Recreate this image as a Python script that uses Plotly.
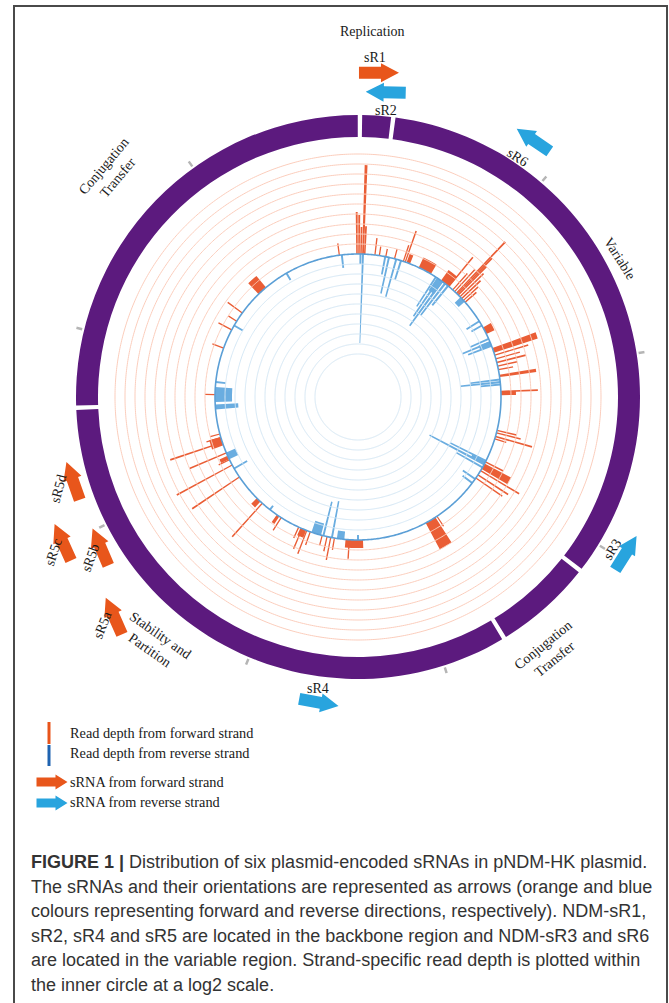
import numpy as np
import plotly.graph_objects as go

# ---------------- data (angles in degrees clockwise from top, depth in log2 units) -------------
fwd_theta = [352.5, 359.6, 0.4, 1.2, 2.0, 2.7, 6.8, 8.6, 11.2, 14.8, 18.5, 19.3, 20.6, 27.9, 37.5,
             39.4, 41.5, 42.5, 43.5, 44.0, 44.5, 45.5, 46.5, 47.5, 48.5, 62.4, 71.0, 73.0, 74.5, 76.0,
             77.5, 79.0, 81.5, 87.8, 88.5, 103.5, 104.5, 106.0, 107.0, 117.0, 119.0, 121.0, 123.0, 124.5,
             146.5, 149.5, 181.5, 183.5, 189.5, 191.0, 192.5, 194.5, 199.5, 201.0, 202.5, 203.0, 204.5,
             212.5, 214.0, 222.0, 224.0, 236.0, 241.6, 244.0, 245.0, 247.0, 251.5, 252.0, 253.5, 255.0,
             271.0, 290.0, 298.0, 302.0, 306.0, 318.0]
fwd_width = [0.5, 0.6, 0.6, 0.6, 0.7, 0.6, 0.5, 0.5, 0.5, 0.5, 0.5, 0.5, 1.5, 5.5, 4.0,
             0.5, 0.5, 0.5, 0.5, 0.5, 0.6, 0.5, 0.6, 0.5, 0.6, 3.0, 2.0, 0.5, 0.5, 0.6,
             0.5, 0.5, 1.0, 0.6, 1.5, 0.5, 0.5, 0.6, 0.5, 0.5, 2.5, 0.5, 0.5, 0.5,
             0.5, 4.5, 7.0, 0.5, 0.5, 0.5, 0.5, 0.5, 0.5, 0.5, 2.5, 0.5, 0.5,
             0.5, 1.2, 0.5, 2.0, 0.5, 0.5, 0.5, 1.5, 0.5, 0.5, 3.5, 0.5, 0.5,
             0.5, 0.5, 0.5, 0.5, 0.5, 4.0]
fwd_log2 = [1.2, 4.2, 3.9, 2.7, 8.9, 2.8, 1.7, 0.9, 0.8, 1.0, 1.7, 3.3, 0.9, 1.1, 1.3,
            3.8, 2.2, 3.0, 7.1, 5.0, 4.0, 3.3, 2.6, 2.0, 1.5, 0.9, 4.6, 3.5, 2.5, 3.0,
            2.0, 1.5, 3.7, 3.7, 1.5, 2.0, 2.5, 3.8, 1.2, 2.0, 3.0, 4.5, 3.6, 3.2,
            1.2, 3.0, 0.8, 1.9, 1.2, 2.3, 1.5, 1.0, 1.4, 2.5, 0.8, 2.2, 1.2,
            1.5, 0.9, 4.5, 0.8, 5.7, 6.3, 1.2, 0.9, 4.0, 5.5, 1.2, 1.5, 1.0,
            1.0, 1.2, 1.5, 1.0, 1.8, 1.5]

rev_theta = [353.5, 1.0, 2.0, 11.0, 12.5, 15.5, 17.5, 33.0, 34.5, 36.0, 37.5, 39.0, 35.0, 47.0,
             58.0, 60.0, 66.0, 67.5, 69.0, 68.0, 83.0, 84.0, 85.0, 116.5, 117.5, 118.0, 119.5,
             125.0, 127.0, 180.0, 187.0, 190.5, 194.0, 197.0, 218.0, 240.0, 245.7, 266.0, 271.0,
             276.0, 300.0, 330.0]
rev_width = [0.8, 0.8, 0.8, 0.8, 0.8, 0.8, 0.8, 0.8, 0.9, 1.0, 0.9, 0.9, 3.0, 2.5,
             0.8, 0.8, 0.8, 0.9, 0.8, 2.0, 0.8, 0.9, 0.8, 0.8, 1.5, 1.0, 0.8,
             0.8, 0.8, 0.8, 3.0, 0.8, 0.8, 4.0, 0.8, 0.8, 3.0, 2.0, 6.0,
             0.8, 0.8, 0.8]
rev_log2 = [1.3, 1.0, 8.9, 1.8, 3.7, 3.9, 2.0, 3.5, 4.5, 5.5, 4.0, 2.5, 1.5, 0.8,
            1.5, 1.2, 2.0, 3.0, 2.5, 1.2, 3.0, 4.0, 2.0, 4.0, 1.5, 6.2, 3.0,
            1.5, 1.2, 0.5, 0.8, 3.7, 3.5, 1.2, 0.5, 1.5, 1.0, 2.3, 1.7,
            1.0, 1.0, 0.8]

region_names = ["Replication", "Variable", "Conjugation Transfer", "Stability and Partition",
                "Conjugation Transfer"]
region_start = [0.4, 7.2, 128.0, 148.8, 267.8]
region_end = [7.2, 128.0, 148.8, 267.8, 360.4]

tick_theta = [40.5, 81.1, 121.6, 162.2, 202.7, 243.2, 283.8, 324.3]

srna_names = ["sR1", "sR2", "sR6", "sR3", "sR4", "sR5a", "sR5b", "sR5c", "sR5d"]
srna_theta = [3.7, 5.2, 34.3, 120.2, 187.3, 228.1, 239.8, 243.8, 253.6]
srna_strand = ["+", "-", "-", "-", "-", "+", "+", "+", "+"]

# ---------------- geometry / style -------------
W, H = 669, 1003
CX, CY = 358, 397
RMAX = 290
R0 = 143
UNIT = 10
NGRID = 10
RING_IN, RING_OUT = 260, 282
GAP = 0.9

ORANGE = "#ea5e36"
BLUE = "#6aade0"
BASE_BLUE = "#5b9fd6"
GRID_OR = "#fbcdbc"
GRID_BL = "#d4e7f5"
PURPLE = "#5c1a7e"
ARR_OR = "#e8561b"
ARR_BL = "#28a4de"
SERIF = "Liberation Serif"

srna_r = [325, 306, 311, 310, 308, 328, 298, 329, 297]
srna_tilt = [3.7, 3.7, 0, -2, -3, -18, -7, -2, 3]
srna_lab = [(375, 57, 0), (386, 110, 0), (518, 157, 33), (612, 549, -58), (318, 688, 0),
            (102, 625, -68), (90, 558, -70), (53, 552, -72), (58, 489, -75)]

fig = go.Figure()

# grid rings
tc = np.linspace(0, 360, 721)
for k in range(1, NGRID + 1):
    fig.add_trace(go.Scatterpolar(r=np.full(tc.size, R0 + k * UNIT), theta=tc, mode="lines",
                                  line=dict(color=GRID_OR, width=1), hoverinfo="skip", showlegend=False))
    fig.add_trace(go.Scatterpolar(r=np.full(tc.size, R0 - k * UNIT), theta=tc, mode="lines",
                                  line=dict(color=GRID_BL, width=1), hoverinfo="skip", showlegend=False))

# read depth bars
fr = np.array(fwd_log2) * UNIT
fig.add_trace(go.Barpolar(theta=fwd_theta, r=fr, base=np.full(fr.size, R0), width=fwd_width,
                          marker=dict(color=ORANGE, line=dict(width=0)), showlegend=False))
rr = np.array(rev_log2) * UNIT
fig.add_trace(go.Barpolar(theta=rev_theta, r=rr, base=R0 - rr, width=rev_width,
                          marker=dict(color=BLUE, line=dict(width=0)), showlegend=False))

# baseline
fig.add_trace(go.Scatterpolar(r=np.full(tc.size, R0), theta=tc, mode="lines",
                              line=dict(color=BASE_BLUE, width=1.6), hoverinfo="skip", showlegend=False))

# outer region ring
rs = np.array(region_start)
re_ = np.array(region_end)
fig.add_trace(go.Barpolar(theta=(rs + re_) / 2, r=np.full(rs.size, RING_OUT - RING_IN),
                          base=np.full(rs.size, RING_IN), width=(re_ - rs) - GAP,
                          marker=dict(color=PURPLE, line=dict(width=0)), showlegend=False))
# coordinate ticks
fig.add_trace(go.Barpolar(theta=tick_theta, r=np.full(len(tick_theta), 8),
                          base=np.full(len(tick_theta), RING_OUT + 2), width=0.5,
                          marker=dict(color="#b5b5b5", line=dict(width=0)), showlegend=False))


def arrow_poly(cx, cy, ang, L=40, sw=12, hw=19, hl=18):
    a = np.deg2rad(ang)
    d = np.array([np.cos(a), -np.sin(a)])
    n = np.array([np.sin(a), np.cos(a)])
    pts = [(-L / 2, -sw / 2), (L / 2 - hl, -sw / 2), (L / 2 - hl, -hw / 2), (L / 2, 0),
           (L / 2 - hl, hw / 2), (L / 2 - hl, sw / 2), (-L / 2, sw / 2), (-L / 2, -sw / 2)]
    xs = [cx + u * d[0] + v * n[0] for u, v in pts]
    ys = [cy + u * d[1] + v * n[1] for u, v in pts]
    return xs, ys


# sRNA arrows (on a pixel-unit cartesian overlay)
for name, th, st, r, tilt in zip(srna_names, srna_theta, srna_strand, srna_r, srna_tilt):
    t = np.deg2rad(th)
    ax_ = CX + r * np.sin(t)
    ay_ = CY - r * np.cos(t)
    ang = (-th if st == "+" else 180 - th) + tilt
    xs, ys = arrow_poly(ax_, ay_, ang)
    fig.add_trace(go.Scatter(x=xs, y=ys, fill="toself", mode="lines", line=dict(width=0),
                             fillcolor=ARR_OR if st == "+" else ARR_BL, hoverinfo="skip",
                             showlegend=False, xaxis="x", yaxis="y"))

# legend arrows
for yy, col in [(782, ARR_OR), (803, ARR_BL)]:
    xs, ys = arrow_poly(52, yy, 0, L=31, sw=9, hw=15, hl=12)
    fig.add_trace(go.Scatter(x=xs, y=ys, fill="toself", mode="lines", line=dict(width=0),
                             fillcolor=col, hoverinfo="skip", showlegend=False))

annotations = []


def txt(x, y, s, size=14, angle=0, family=SERIF, color="#1a1a1a", xanchor="center", align="center"):
    annotations.append(dict(x=x, y=y, xref="x", yref="y", text=s, showarrow=False, textangle=angle,
                            font=dict(family=family, size=size, color=color), xanchor=xanchor,
                            yanchor="middle", align=align))


# region labels
txt(372, 31, region_names[0], 14)
txt(620, 258, region_names[1], 14, 58)
txt(548, 652, "Conjugation<br>Transfer", 14, -39)
txt(155, 642, "Stability and<br>Partition", 14, 35)
txt(110, 172, "Conjugation<br>Transfer", 14, -50)

for name, (x, y, a) in zip(srna_names, srna_lab):
    txt(x, y, name, 14, a)

# legend
LEG = 14.3
txt(68, 733, "Read depth from forward strand", LEG, xanchor="left")
txt(68, 753, "Read depth from reverse strand", LEG, xanchor="left")
txt(68, 782, "sRNA from forward strand", LEG, xanchor="left")
txt(68, 802, "sRNA from reverse strand", LEG, xanchor="left")

# caption
cap = ["<b>FIGURE 1 |</b> Distribution of six plasmid-encoded sRNAs in pNDM-HK plasmid.",
       "The sRNAs and their orientations are represented as arrows (orange and blue",
       "colours representing forward and reverse directions, respectively). NDM-sR1,",
       "sR2, sR4 and sR5 are located in the backbone region and NDM-sR3 and sR6",
       "are located in the variable region. Strand-specific read depth is plotted within",
       "the inner circle at a log2 scale."]
for i, line in enumerate(cap):
    txt(29, 862 + i * 24.6, line, 18, family="Liberation Sans", color="#333333", xanchor="left",
        align="left")

shapes = [
    dict(type="rect", xref="x", yref="y", x0=14, y0=6, x1=667, y1=1010,
         line=dict(color="#4a4a4a", width=2), fillcolor="rgba(0,0,0,0)"),
    dict(type="rect", xref="x", yref="y", x0=47.5, y0=722, x1=50.5, y1=744,
         line=dict(width=0), fillcolor="#e8541a"),
    dict(type="rect", xref="x", yref="y", x0=47.5, y0=745, x1=50.5, y1=766,
         line=dict(width=0), fillcolor="#1f63b0"),
]

fig.update_layout(
    width=W, height=H, margin=dict(l=0, r=0, t=0, b=0),
    paper_bgcolor="white", plot_bgcolor="rgba(0,0,0,0)",
    xaxis=dict(range=[0, W], visible=False, domain=[0, 1], fixedrange=True),
    yaxis=dict(range=[H, 0], visible=False, domain=[0, 1], fixedrange=True),
    polar=dict(
        domain=dict(x=[(CX - RMAX) / W, (CX + RMAX) / W],
                    y=[(H - CY - RMAX) / H, (H - CY + RMAX) / H]),
        bgcolor="rgba(0,0,0,0)", barmode="overlay",
        radialaxis=dict(range=[0, RMAX], visible=False, showgrid=False),
        angularaxis=dict(rotation=90, direction="clockwise", visible=False, showgrid=False),
    ),
    annotations=annotations, shapes=shapes, showlegend=False,
)

fig.write_html("out.html")
